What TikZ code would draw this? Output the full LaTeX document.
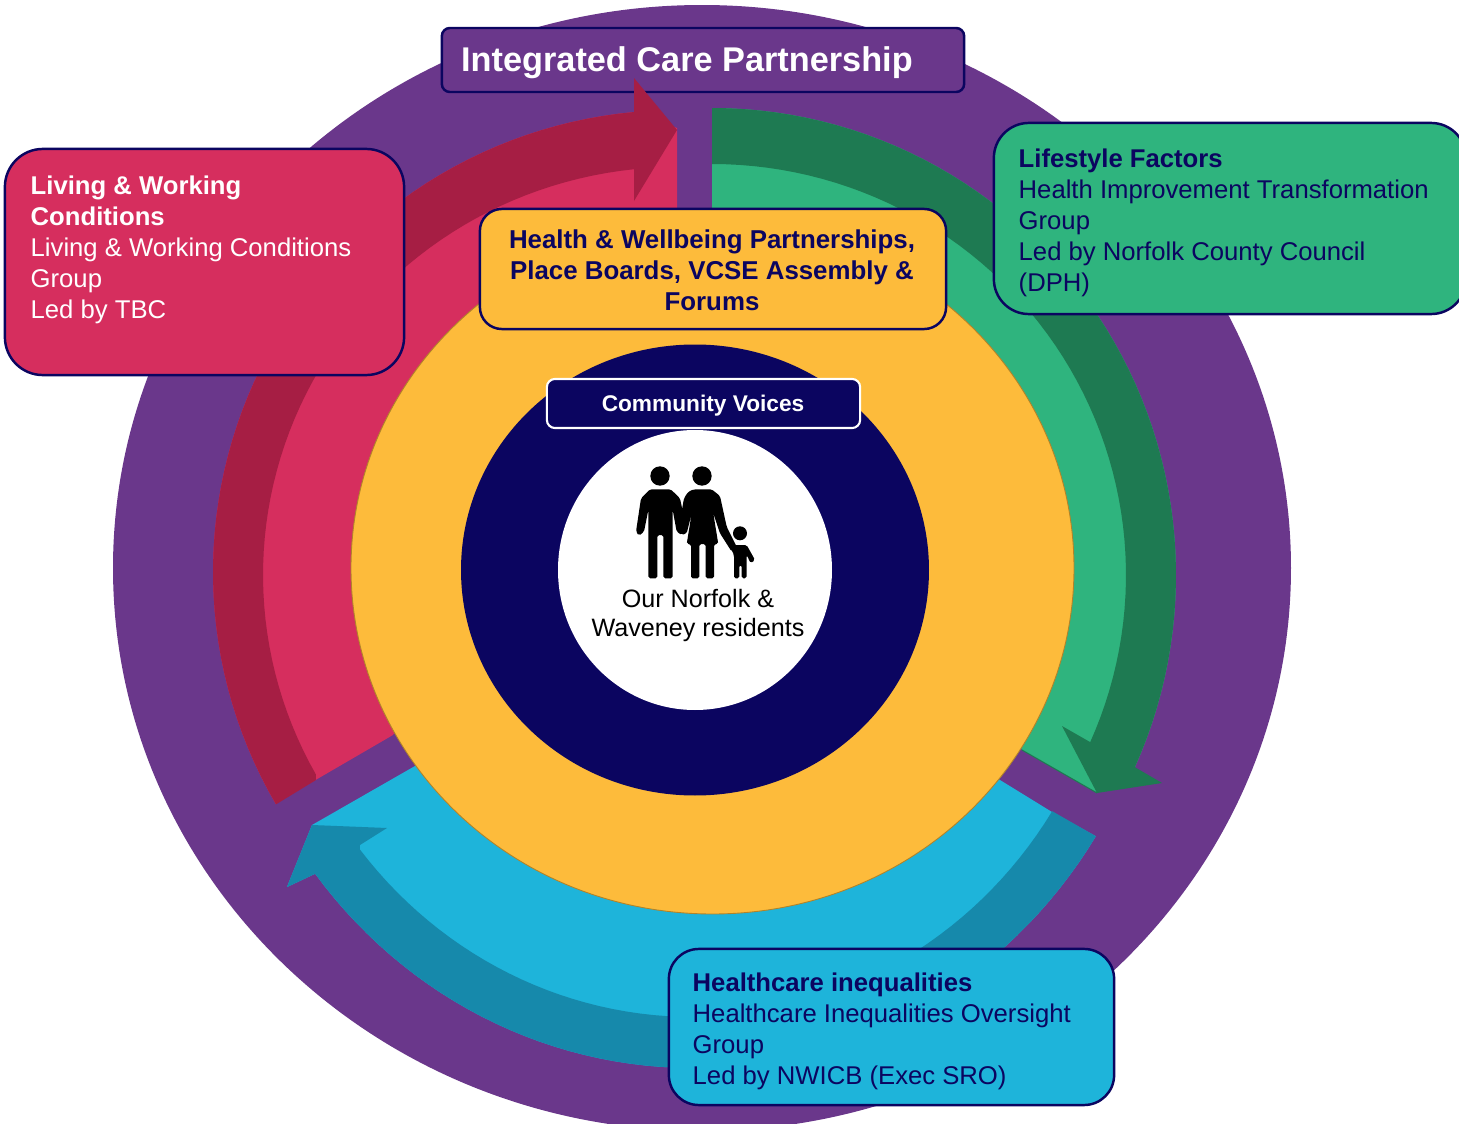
\documentclass[tikz,border=0pt]{standalone}
\usepackage{fontspec}
\setmainfont{Liberation Sans}
\definecolor{icppurple}{HTML}{6A378B}
\definecolor{icpnavy}{HTML}{0B0560}
\definecolor{redlight}{HTML}{D62E5E}
\definecolor{reddark}{HTML}{A61E44}
\definecolor{greenlight}{HTML}{2FB47E}
\definecolor{greendark}{HTML}{1E7A52}
\definecolor{bluelight}{HTML}{1EB4DA}
\definecolor{bluedark}{HTML}{1689AB}
\definecolor{amber}{HTML}{FDBB3B}
\tikzset{
  roundbox/.style={draw=icpnavy,line width=.7pt,inner sep=0pt},
  boxtext/.style={anchor=north west,inner sep=0pt,align=left,font=\fontsize{7.3pt}{8.8pt}\selectfont},
}
\begin{document}
\begin{tikzpicture}[x=0.01cm,y=-0.01cm,samples=60]
	\clip (0,0) rectangle (1459,1124);
	% arcs of the three arrows
	\def\redouter{{677+464*cos(\x)},{572+462*sin(\x)}}
	\def\redinner{{677+414*cos(\x)},{575+408*sin(\x)}}
	\def\greenouter{{712+464*cos(\x)},{575+467*sin(\x)}}
	\def\greeninner{{712+414*cos(\x)},{575+411*sin(\x)}}
	\def\blueouter{{693+475*cos(\x)},{575+493*sin(\x)}}
	\def\blueinner{{693+425*cos(\x)},{575+442*sin(\x)}}

	% outer purple circle and title box
	\fill[icppurple] (702,568) ellipse [x radius=589,y radius=563];
	\node[roundbox,fill=icppurple,rounded corners=.08cm,minimum width=5.22cm,minimum height=.64cm] (icpbox) at (703,60) {};
	\node[anchor=west,inner sep=0pt,text=white,font=\fontsize{9.75pt}{11pt}\selectfont\bfseries] (icptext) at (460.5,63) {Integrated Care Partnership};

	% red arrow
	\fill[redlight] (677,128) -- (677,400) -- (500,570) -- (393,735) -- (276,803) -- plot[domain=149.8:264.7] (\redouter) -- cycle;
	\fill[reddark] plot[domain=149.8:264.7] (\redouter) -- (634,78) -- (677,130) -- (634,201) -- (634,167) -- plot[domain=264:150.7] (\redinner) -- (316,780) -- cycle;
	% green arrow
	\fill[greenlight] plot[domain=-90:24.3] (\greenouter) -- (1097,793) -- (1022,750) -- (960,568) -- (712,400) -- cycle;
	\fill[greendark] plot[domain=-90:24.3] (\greenouter) -- (1162,783) -- (1097,793) -- (1062,726) -- (1090,742) -- plot[domain=24.1:-90] (\greeninner) -- cycle;
	\draw[greendark,line width=.3pt] (1022,750) -- (1097,793);
	% blue arrow
	\fill[bluelight] plot[domain=32:142.7] (\blueouter) -- (287,887) -- (312,825) -- (415,766) -- (700,600) -- (1000,780) -- (1052,812) -- cycle;
	\fill[bluedark] plot[domain=32:142.7] (\blueouter) -- (287,887) -- (312,825) -- (387,828) -- (360,845) -- plot[domain=141.6:32.3] (\blueinner) -- cycle;

	% inner circles
	\filldraw[fill=amber,draw=amber!70!black,line width=.25pt] (712.5,568) ellipse [x radius=361.5,y radius=346];
	\fill[icpnavy] (695,570) ellipse [x radius=234,y radius=225.5];
	\fill[white] (695,570) ellipse [x radius=137,y radius=140];

	% family
	\fill (660,476) circle [radius=9.7];
	\fill (702,476) circle [radius=9.7];
	\fill (740,533.3) circle [radius=7];
	\fill[rounded corners=.5pt] (650,489.3) -- (670.7,489.3) -- (680,498.3) -- (686.7,530) -- (681.7,535) -- (676.7,531.7) -- (672.7,510) -- (672.5,578.3) -- (663.3,578.3) -- (663.3,535) -- (657.3,535) -- (657.3,578.3) -- (648.5,578.3) -- (648.3,510) -- (644,531.7) -- (639,535.7) -- (636,531.7) -- (641,498.3) -- cycle;
	\fill[rounded corners=.5pt] (694,489.3) -- (711.7,489.3) -- (720,496) -- (726.7,526.7) -- (736.7,546.7) -- (731.7,551.7) -- (720,533.3) -- (713.3,513.3) -- (718.3,544) -- (714,544) -- (714,578.3) -- (705.7,578.3) -- (705.7,544) -- (699.3,544) -- (699.3,578.3) -- (691,578.3) -- (691,544) -- (686.7,544) -- (691.7,513.3) -- (686.7,533.3) -- (681.7,535) -- (678.3,530) -- (684,498.3) -- (688.3,491.7) -- cycle;
	\fill[rounded corners=.5pt] (733.3,545) -- (746.7,545) -- (755,560) -- (750.7,563.3) -- (746.7,555) -- (746.7,578.3) -- (741.7,578.3) -- (741.7,565) -- (739.3,565) -- (739.3,578.3) -- (734,578.3) -- (734,555) -- (730,546.7) -- cycle;
	\node[inner sep=0pt,align=center,font=\fontsize{7.15pt}{8.25pt}\selectfont] (residents) at (698,615.5) {Our Norfolk \&\\Waveney residents};

	% boxes
	\node[draw=white,line width=.6pt,fill=icpnavy,rounded corners=.08cm,inner sep=0pt,minimum width=3.13cm,minimum height=.49cm] (voicesbox) at (703.5,403.5) {};
	\node[inner sep=0pt,text=white,font=\fontsize{6.45pt}{8pt}\selectfont\bfseries] (voicestext) at (703,406) {Community Voices};

	\node[roundbox,fill=amber,rounded corners=.22cm,minimum width=4.66cm,minimum height=1.2cm] (placebox) at (713,269) {};
	\node[inner sep=0pt,align=center,text=icpnavy,font=\fontsize{7.35pt}{8.8pt}\selectfont\bfseries] (placetext) at (712,270) {Health \& Wellbeing Partnerships,\\Place Boards, VCSE Assembly \&\\Forums};

	\node[roundbox,fill=redlight,rounded corners=.38cm,minimum width=3.99cm,minimum height=2.26cm] (livingbox) at (204.5,262) {};
	\node[boxtext,text=white] (livingtext) at (30,175) {\textbf{Living \& Working}\\\textbf{Conditions}\\Living \& Working Conditions\\Group\\Led by TBC};

	\node[roundbox,fill=greenlight,rounded corners=.35cm,minimum width=4.72cm,minimum height=1.91cm] (lifestylebox) at (1230,218.5) {};
	\node[boxtext,text=icpnavy] (lifestyletext) at (1018,148) {\textbf{Lifestyle Factors}\\Health Improvement Transformation\\Group\\Led by Norfolk County Council\\(DPH)};

	\node[roundbox,fill=bluelight,rounded corners=.3cm,minimum width=4.45cm,minimum height=1.56cm] (inequalbox) at (891.5,1027) {};
	\node[boxtext,text=icpnavy] (inequaltext) at (692,972) {\textbf{Healthcare inequalities}\\Healthcare Inequalities Oversight\\Group\\Led by NWICB (Exec SRO)};
\end{tikzpicture}
\end{document}
